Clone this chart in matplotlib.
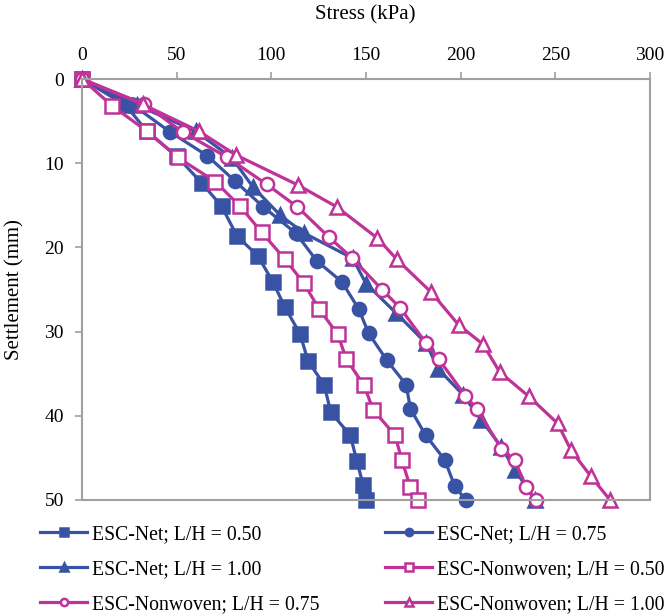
import numpy as np
import matplotlib
matplotlib.use('Agg')
import matplotlib.pyplot as plt

plt.rcParams['font.family'] = ['Liberation Serif', 'DejaVu Serif']

# stress (kPa) / settlement (mm)
net050_s = [0, 23, 34.3, 50.2, 63.4, 73.7, 82.0, 92.9, 100.8, 107.2, 115.2, 119.4, 127.9, 131.4, 141.7, 145.2, 148.5, 150]
net050_d = [0, 3.1, 6.2, 9.2, 12.4, 15.1, 18.7, 21.0, 24.1, 27.1, 30.3, 33.5, 36.3, 39.6, 42.3, 45.4, 48.2, 50]

net075_s = [0, 27, 46.6, 66.1, 80.7, 95.8, 112.9, 124, 137.3, 146.1, 151.4, 161, 171.2, 173.5, 181.5, 191.5, 196.8, 202.6]
net075_d = [0, 3.1, 6.3, 9.1, 12.1, 15.2, 18.3, 21.6, 24.1, 27.3, 30.2, 33.4, 36.3, 39.2, 42.3, 45.2, 48.3, 50]

net100_s = [0, 29, 60, 79.3, 90.2, 104.8, 117.3, 143, 150, 165.9, 181.8, 188, 201.2, 210.9, 221.5, 228.6, 239.2]
net100_d = [0, 3.1, 6.2, 9.4, 12.8, 16.2, 18.3, 21.3, 24.3, 27.8, 31.4, 34.4, 37.5, 40.5, 43.7, 46.4, 50]

nw050_s = [0, 16, 34.3, 50.5, 70.5, 83.4, 94.9, 107.2, 117, 125.2, 135, 139.7, 149, 153.8, 165.3, 169, 173.3, 177.4]
nw050_d = [0, 3.2, 6.2, 9.3, 12.2, 15.1, 18.2, 21.4, 24.2, 27.3, 30.3, 33.3, 36.4, 39.3, 42.3, 45.3, 48.4, 50]

nw075_s = [0, 33, 53.2, 76.7, 97.5, 113.8, 130.5, 142.4, 158.4, 168.1, 181.8, 188.5, 202.4, 208.6, 221.5, 228.6, 234.4, 239.7]
nw075_d = [0, 3.0, 6.3, 9.3, 12.5, 15.2, 18.8, 21.2, 25.0, 27.2, 31.4, 33.3, 37.6, 39.2, 43.9, 45.3, 48.4, 50]

nw100_s = [0, 32, 61.7, 81.1, 114.1, 134.6, 156, 166.2, 184.3, 198.9, 211.8, 220.6, 236, 251.2, 258.3, 268.8, 278.9]
nw100_d = [0, 3.0, 6.2, 9.0, 12.6, 15.2, 18.9, 21.4, 25.3, 29.2, 31.5, 34.8, 37.7, 40.9, 44.1, 47.2, 50]

labels = ['ESC-Net; L/H = 0.50', 'ESC-Net; L/H = 0.75', 'ESC-Net; L/H = 1.00',
          'ESC-Nonwoven; L/H = 0.50', 'ESC-Nonwoven; L/H = 0.75', 'ESC-Nonwoven; L/H = 1.00']

blue = '#3953a4'
mag = '#bf3399'
grey = '#a0a0a0'

fig = plt.figure(figsize=(6.68, 6.16), dpi=100)
ax = fig.add_axes([82/668, 1-500/616, 568/668, 421/616])

series = [
    (net050_s, net050_d, blue, 's', blue),
    (net075_s, net075_d, blue, 'o', blue),
    (net100_s, net100_d, blue, '^', blue),
    (nw050_s, nw050_d, mag, 's', 'white'),
    (nw075_s, nw075_d, mag, 'o', 'white'),
    (nw100_s, nw100_d, mag, '^', 'white'),
]
handles = []
for (s, d, c, m, fc), lab in zip(series, labels):
    ms = 10 if m != 'o' else 9.5
    h, = ax.plot(s, d, color=c, lw=2.3, marker=m, ms=ms, mfc=fc, mec=c, mew=1.8,
                 label=lab, clip_on=False)
    handles.append(h)

ax.set_xlim(0, 300)
ax.set_ylim(50, 0)
ax.set_xticks(np.arange(0, 301, 50))
ax.set_yticks(np.arange(0, 51, 10))
ax.xaxis.tick_top()
ax.tick_params(axis='both', colors=grey, length=5, width=1.2, labelsize=14, labelcolor='black')
ax.tick_params(axis='x', pad=6)
ax.tick_params(axis='y', pad=8)
for sp in ax.spines.values():
    sp.set_color(grey)
    sp.set_linewidth(1.5)

fig.text(365/668, 1-15/616, 'Stress (kPa)', ha='center', va='center', fontsize=15)
fig.text(15/668, 1-290/616, 'Settlement (mm)', ha='center', va='center', rotation=90, fontsize=15)

order = [0, 2, 4, 1, 3, 5]
fig.legend([handles[i] for i in order], [labels[i] for i in order], ncol=2,
           loc='upper left', bbox_to_anchor=(40/668, 1-525/616), frameon=False,
           fontsize=14.2, handlelength=2.4, handletextpad=0.25, markerscale=0.55,
           labelspacing=0.82, columnspacing=3.3, borderpad=0, borderaxespad=0)

fig.savefig('out.png', dpi=100)
